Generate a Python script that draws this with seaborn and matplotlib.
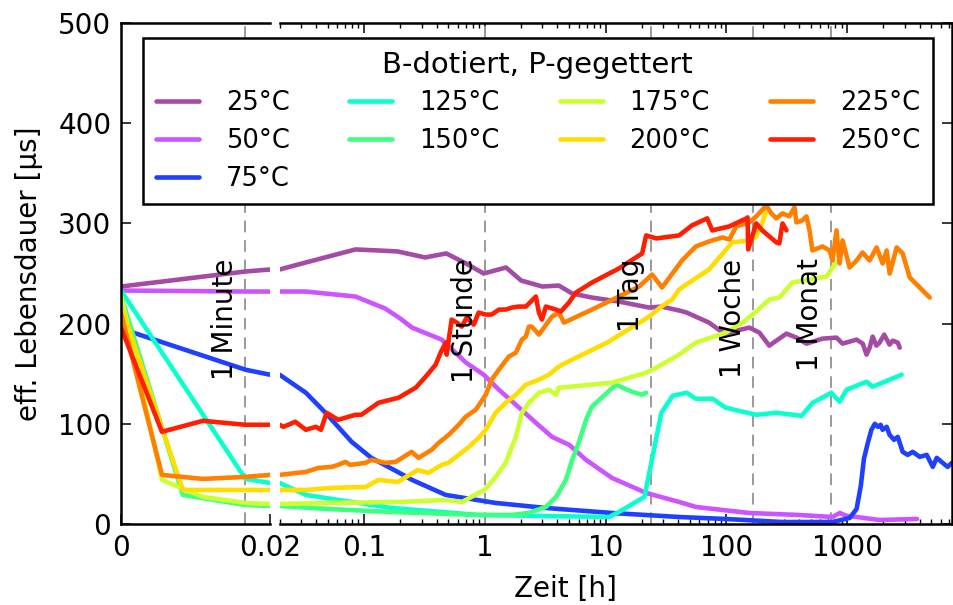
import matplotlib
matplotlib.use("Agg")
import matplotlib.pyplot as plt
import seaborn as sns
import pandas as pd
from matplotlib.ticker import FixedLocator, FixedFormatter, LogLocator, NullFormatter

# ---- measurement data: annealing time [h] and effective lifetime [µs] ----
temps = ["25°C", "50°C", "75°C", "125°C", "150°C", "175°C", "200°C", "225°C", "250°C"]
colors = ["#A54BA6", "#CC55FF", "#1F40FF", "#0AFFCF", "#3DFF80",
          "#CCFF33", "#FFDD00", "#FF8000", "#FF1E00"]

t_25 = [0, 0.0167, 0.02, 0.033, 0.085, 0.13, 0.19, 0.32, 0.48, 0.7, 0.98, 1.5, 2.0,
        3.0, 4.1, 5.3, 7.7, 12.9, 23, 29, 41, 47, 72, 96, 155, 188, 227, 315, 381,
        461, 626, 818, 918, 1200, 1350, 1450, 1540, 1630, 1750, 1860, 2030, 2250,
        2390, 2630, 2730]
v_25 = [237, 252, 254, 261, 274, 273, 272, 266, 270, 260, 250, 256, 243,
        237, 238, 230, 226, 222, 216, 217, 213, 211, 201, 190, 196, 191, 178, 190, 186,
        180, 185, 186, 180, 184, 180, 169, 176, 187, 178, 181, 189, 179,
        183, 181, 176]

t_50 = [0, 0.0167, 0.02, 0.033, 0.085, 0.15, 0.2, 0.25, 0.44, 0.7, 0.98, 1.31, 1.81,
        2.65, 3.6, 5.0, 6.9, 11.3, 21.7, 40.7, 56, 155, 400, 760, 870, 1000, 1200,
        1860, 3800]
v_50 = [233, 232, 232, 232, 227, 215, 205, 196, 184, 161, 149, 134, 119,
        101, 87, 79, 64, 46, 31, 22, 17, 11, 9, 7, 11, 8, 7,
        4, 5]

t_75 = [0, 0.0167, 0.02, 0.033, 0.048, 0.079, 0.115, 0.19, 0.25, 0.475, 1.23, 3.2,
        11.3, 40.7, 99, 292, 758, 1050, 1200, 1300, 1380, 1480, 1590, 1700, 1800,
        1900, 1970, 2130, 2250, 2450, 2630, 2890, 3180, 3500, 4000, 4570, 5130,
        5530, 6200, 6820, 7360]
v_75 = [195, 154, 149, 131, 111, 82, 66, 52, 44, 29, 21, 16,
        11, 7, 5, 2, 2, 6, 15, 38, 65, 80, 94, 100, 97,
        99, 94, 97, 89, 84, 87, 72, 69, 72, 67, 69, 57,
        66, 61, 57, 61]

t_125 = [0, 0.0167, 0.02, 0.033, 0.079, 0.17, 0.89, 10.7, 12.9, 21, 29, 36, 47, 56,
         77, 99, 177, 260, 420, 520, 740, 870, 990, 1450, 1630, 2830]
v_125 = [233, 45, 41, 29, 22, 16, 9, 7, 12, 27, 111, 128, 131, 125,
         125, 116, 109, 111, 108, 121, 131, 122, 134, 142, 137, 149]

t_150 = [0, 0.0083, 0.0167, 0.02, 0.05, 0.17, 0.89, 1.68, 2.3, 3.2, 3.9, 4.7, 5.3,
         6.0, 6.9, 7.7, 10.3, 12.2, 16.6, 20, 21.7]
v_150 = [228, 29, 19, 18, 15, 12, 9, 9, 11, 17, 27, 44, 64,
         81, 104, 117, 131, 139, 132, 129, 131]

t_175 = [0, 0.0055, 0.011, 0.0167, 0.02, 0.05, 0.2, 0.47, 0.65, 0.89, 1.0, 1.23,
         1.49, 1.81, 2.03, 2.32, 2.81, 3.4, 3.9, 4.1, 11.3, 21.7, 26.3, 40.7, 56,
         99, 136, 177, 227, 275, 353, 489, 676, 818]
v_175 = [228, 44, 27, 21, 20, 21, 22, 24, 22, 31, 34, 47,
         61, 87, 111, 121, 131, 134, 129, 136, 141, 151, 156, 169, 181,
         191, 201, 212, 224, 226, 241, 244, 247, 262]

t_200 = [0, 0.0083, 0.0167, 0.02, 0.033, 0.054, 0.103, 0.132, 0.19, 0.28, 0.34,
         0.44, 0.5, 0.74, 0.89, 1.02, 1.23, 1.49, 1.81, 2.19, 2.81, 3.4, 4.1, 4.7,
         10.3, 23, 29, 35.6, 40.7, 46.6, 72, 112, 155, 177, 199, 215]
v_200 = [218, 34, 34, 34, 34, 36, 37, 44, 42, 54, 51,
         59, 61, 77, 86, 94, 111, 121, 129, 139, 144, 149, 157, 161,
         181, 207, 217, 224, 234, 239, 254, 281, 283, 287, 301, 313]

t_225 = [0, 0.0055, 0.011, 0.0167, 0.02, 0.033, 0.042, 0.054, 0.061, 0.070, 0.077,
         0.103, 0.115, 0.151, 0.183, 0.248, 0.283, 0.363, 0.415, 0.503, 0.609, 0.695,
         0.842, 1.02, 1.14, 1.31, 1.58, 1.81, 2.03, 2.19, 2.32, 2.45, 2.81, 3.6, 4.11,
         4.53, 7.73, 12.9, 19, 24.3, 29.4, 43, 56, 72, 93, 106, 121, 155, 177, 215,
         236, 260, 292, 333, 367, 381, 427, 461, 489, 517, 626, 716, 758, 818, 867,
         918, 1050, 1200, 1344, 1538, 1757, 1972, 2128, 2254, 2576, 2890, 3304, 4000,
         4840]
v_225 = [210, 49, 45, 47, 49, 52, 56, 57, 59, 62, 59,
         61, 64, 61, 62, 72, 66, 74, 81, 89, 99, 107,
         114, 129, 144, 154, 167, 171, 184, 187, 197, 197, 189, 207, 211,
         201, 214, 227, 237, 249, 236, 263, 277, 282, 286, 284, 297, 301, 307, 318,
         310, 305, 310, 307, 316, 301, 303, 307, 293, 273, 277, 273, 263, 293, 260,
         283, 256, 263, 271, 263, 276, 260, 273, 250, 276, 270, 246, 236,
         226]

t_250 = [0, 0.0055, 0.011, 0.0167, 0.02, 0.0215, 0.027, 0.033, 0.040, 0.044, 0.049,
         0.061, 0.085, 0.095, 0.132, 0.193, 0.268, 0.324, 0.392, 0.431, 0.475, 0.484,
         0.503, 0.532, 0.586, 0.645, 0.709, 0.811, 0.89, 1.02, 1.14, 1.31, 1.49, 1.68,
         1.91, 2.19, 2.65, 2.81, 2.97, 3.21, 3.88, 4.27, 4.98, 5.69, 7.73, 12.9, 20.1,
         21.7, 26.3, 40.7, 52, 69.5, 76.5, 106, 147, 150, 152, 177, 199, 260, 275, 292,
         315]
v_250 = [196, 92, 103, 99, 99, 97, 102, 94, 97, 94, 111,
         104, 109, 109, 121, 126, 136, 147, 159, 171, 181, 169,
         184, 204, 201, 197, 206, 199, 211, 209, 209, 214, 214, 216,
         217, 217, 227, 211, 204, 217, 214, 212, 221, 231, 241, 255, 270,
         288, 285, 288, 298, 305, 293, 297, 305, 306, 274, 300, 293, 281, 280, 300,
         293]

series_t = [t_25, t_50, t_75, t_125, t_150, t_175, t_200, t_225, t_250]
series_v = [v_25, v_50, v_75, v_125, v_150, v_175, v_200, v_225, v_250]

# reference times shown as dashed lines
mark_t = [0.01667, 1, 24, 168, 730]
mark_lbl = ["1 Minute", "1 Stunde", "1 Tag", "1 Woche", "1 Monat"]

t_break = 0.02
yticks = [0, 100, 200, 300, 400, 500]
log_ticks = [0.1, 1, 10, 100, 1000]
log_labels = ["0.1", "1", "10", "100", "1000"]

FS = 20        # axis text
FS_LEG = 18.5  # legend entries
FS_TITLE = 21  # legend title

# ---- style ----
sns.set_theme(style="white")
plt.rcParams.update({
    "font.family": ["DejaVu Sans"],
    "font.size": FS,
    "axes.linewidth": 1.8,
    "axes.edgecolor": "black",
    "xtick.direction": "in",
    "ytick.direction": "in",
    "xtick.major.size": 7.5,
    "ytick.major.size": 7.5,
    "xtick.minor.size": 3.8,
    "ytick.minor.size": 3.8,
    "xtick.major.width": 1.1,
    "ytick.major.width": 1.1,
    "xtick.minor.width": 1.0,
    "xtick.labelsize": FS,
    "ytick.labelsize": FS,
    "xtick.color": "black",
    "ytick.color": "black",
    "text.color": "black",
    "axes.labelcolor": "black",
})

W, H = 954, 605
fig = plt.figure(figsize=(W / 100, H / 100), dpi=100)
x0, x_gap_l, x_gap_r, x1 = 121, 270, 279.6, 952
y_top, y_bot = 23, 524
ax_l = fig.add_axes([x0 / W, 1 - y_bot / H, (x_gap_l - x0) / W, (y_bot - y_top) / H])
ax_r = fig.add_axes([x_gap_r / W, 1 - y_bot / H, (x1 - x_gap_r) / W, (y_bot - y_top) / H])

lw = 3.3
for name, col, ts, vs in zip(temps, colors, series_t, series_v):
    df = pd.DataFrame({"t": ts, "v": vs})
    left = df[df["t"] <= t_break]
    right = df[df["t"] >= t_break]
    sns.lineplot(data=left, x="t", y="v", ax=ax_l, color=col, lw=lw,
                 estimator=None, sort=False, legend=False)
    sns.lineplot(data=right, x="t", y="v", ax=ax_r, color=col, lw=lw,
                 estimator=None, sort=False, label=name)

# dashed reference times with vertical captions
for t, lbl in zip(mark_t, mark_lbl):
    ax = ax_l if t < t_break else ax_r
    ax.axvline(t, color="#9a9a9a", lw=1.4, ls=(0, (6, 4)), zorder=1)
    ax.annotate(lbl, xy=(t, 265), xytext=(-4.5, 0), textcoords="offset points",
                rotation=90, ha="right", va="top", fontsize=FS, zorder=5)

# left (linear) panel
ax_l.set_xlim(0, t_break)
ax_l.set_ylim(0, 500)
ax_l.xaxis.set_major_locator(FixedLocator([0, 0.02]))
ax_l.xaxis.set_major_formatter(FixedFormatter(["0", "0.02"]))
ax_l.yaxis.set_major_locator(FixedLocator(yticks))
ax_l.spines["right"].set_visible(False)
ax_l.tick_params(axis="x", which="both", top=False, bottom=True, pad=7)
ax_l.tick_params(axis="y", which="both", left=True, right=False, pad=7)
ax_l.set_xlabel("")
ax_l.set_ylabel("eff. Lebensdauer [µs]", fontsize=FS, labelpad=11)

# right (logarithmic) panel
ax_r.set_xscale("log")
ax_r.set_xlim(t_break, 7400)
ax_r.set_ylim(0, 500)
ax_r.xaxis.set_major_locator(FixedLocator(log_ticks))
ax_r.xaxis.set_major_formatter(FixedFormatter(log_labels))
ax_r.xaxis.set_minor_locator(LogLocator(base=10, subs=range(2, 10), numticks=20))
ax_r.xaxis.set_minor_formatter(NullFormatter())
ax_r.yaxis.set_major_locator(FixedLocator(yticks))
ax_r.spines["left"].set_visible(False)
ax_r.tick_params(axis="x", which="both", top=True, bottom=True, pad=7)
ax_r.tick_params(axis="y", which="both", left=False, right=True,
                 labelleft=False, labelright=False)
ax_r.set_xlabel("")
ax_r.set_ylabel("")

fig.text(565 / W, 1 - 589 / H, "Zeit [h]", ha="center", va="center", fontsize=FS)

handles, labels = ax_r.get_legend_handles_labels()
ax_r.get_legend().remove()
leg = fig.legend(handles, labels, ncol=4, title="B-dotiert, P-gegettert",
                 loc="upper left", bbox_to_anchor=(143 / W, 1 - 38 / H),
                 borderaxespad=0, fontsize=FS_LEG, title_fontsize=FS_TITLE,
                 frameon=True, fancybox=False, framealpha=1, edgecolor="black",
                 handlelength=1.67, handletextpad=1.05, columnspacing=2.33,
                 labelspacing=0.45, borderpad=0.5)
leg.get_frame().set_linewidth(1.8)
for h in leg.legend_handles:
    h.set_linewidth(lw)

fig.savefig("out.png", dpi=100)
